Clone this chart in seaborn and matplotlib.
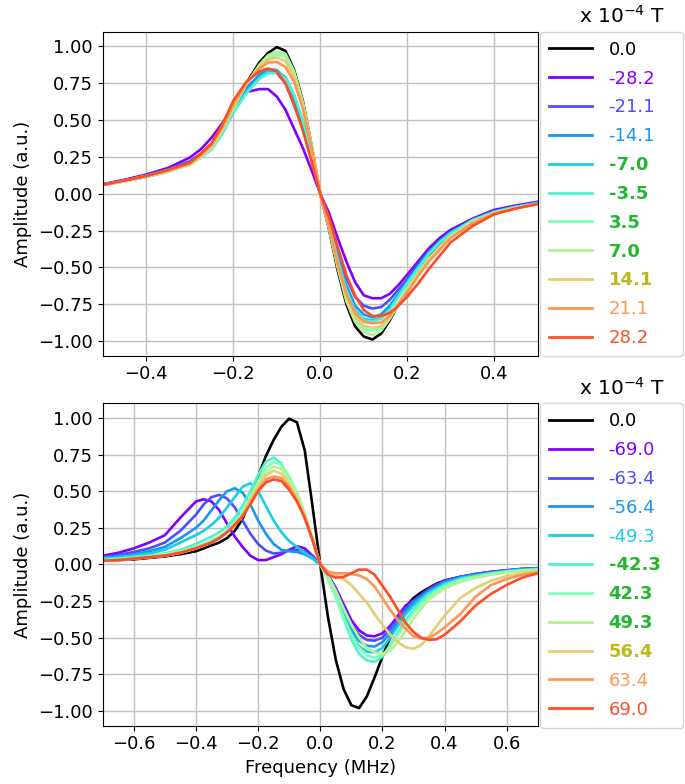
import numpy as np
import pandas as pd
import matplotlib
matplotlib.use("Agg")
import matplotlib.pyplot as plt
import seaborn as sns

# ---------------- top panel (fields x 1e-4 T) ----------------
top_fields = ["0.0", "-28.2", "-21.1", "-14.1", "-7.0", "-3.5", "3.5", "7.0", "14.1", "21.1", "28.2"]
top_x = [-0.5, -0.45, -0.4, -0.35, -0.3, -0.275, -0.25, -0.225, -0.2, -0.17, -0.14, -0.12, -0.1, -0.08,
         -0.06, -0.04, -0.02, 0.0, 0.02, 0.04, 0.06, 0.08, 0.1, 0.12, 0.14, 0.16, 0.18, 0.2, 0.225, 0.25,
         0.275, 0.3, 0.35, 0.4, 0.45, 0.5]
top_y = {
    "0.0":   [.06, .085, .115, .15, .2, .25, .32, .43, .58, .75, .89, .955, .995, .97, .84, .63, .33, 0,
              -.24, -.52, -.75, -.9, -.97, -.99, -.95, -.86, -.75, -.65, -.54, -.43, -.35, -.28, -.19, -.13, -.095, -.07],
    "-28.2": [.065, .095, .13, .175, .245, .30, .38, .48, .59, .69, .71, .71, .66, .57, .44, .31, .16, 0,
              -.13, -.3, -.46, -.6, -.69, -.71, -.71, -.68, -.62, -.55, -.46, -.37, -.3, -.245, -.17, -.11, -.08, -.055],
    "-21.1": [.06, .09, .125, .165, .22, .27, .34, .45, .59, .72, .80, .83, .82, .75, .61, .44, .23, 0,
              -.19, -.39, -.57, -.7, -.76, -.78, -.77, -.72, -.65, -.58, -.48, -.39, -.32, -.26, -.18, -.12, -.085, -.06],
    "-14.1": [.06, .088, .12, .16, .21, .26, .32, .43, .57, .71, .81, .845, .84, .78, .65, .47, .25, 0,
              -.2, -.42, -.62, -.76, -.82, -.84, -.82, -.76, -.68, -.6, -.5, -.4, -.32, -.26, -.18, -.12, -.09, -.065],
    "-7.0":  [.06, .085, .115, .15, .2, .245, .3, .41, .55, .69, .79, .83, .835, .79, .67, .49, .26, 0,
              -.2, -.44, -.65, -.79, -.85, -.86, -.84, -.78, -.69, -.6, -.5, -.4, -.33, -.27, -.18, -.125, -.09, -.065],
    "-3.5":  [.06, .085, .115, .15, .2, .245, .3, .41, .55, .68, .78, .815, .82, .78, .67, .5, .27, 0,
              -.21, -.45, -.66, -.8, -.86, -.87, -.85, -.79, -.7, -.61, -.51, -.41, -.33, -.27, -.18, -.125, -.09, -.065],
    "3.5":   [.06, .085, .115, .15, .195, .245, .31, .43, .58, .74, .86, .92, .945, .93, .81, .61, .32, 0,
              -.23, -.49, -.71, -.85, -.92, -.93, -.91, -.84, -.74, -.65, -.54, -.44, -.36, -.29, -.19, -.13, -.095, -.07],
    "7.0":   [.06, .085, .115, .15, .195, .245, .31, .43, .58, .745, .875, .94, .965, .95, .83, .62, .33, 0,
              -.23, -.5, -.73, -.87, -.94, -.96, -.93, -.85, -.75, -.65, -.54, -.44, -.36, -.29, -.19, -.13, -.095, -.07],
    "14.1":  [.06, .085, .12, .155, .2, .255, .32, .44, .59, .745, .86, .91, .925, .9, .79, .6, .32, 0,
              -.22, -.48, -.7, -.83, -.9, -.91, -.9, -.84, -.75, -.66, -.55, -.45, -.37, -.3, -.2, -.135, -.1, -.07],
    "21.1":  [.06, .09, .12, .16, .205, .26, .33, .45, .6, .75, .85, .89, .895, .86, .76, .58, .31, 0,
              -.22, -.47, -.68, -.81, -.87, -.88, -.875, -.83, -.75, -.67, -.56, -.46, -.38, -.3, -.2, -.135, -.1, -.07],
    "28.2":  [.06, .09, .12, .16, .21, .27, .34, .47, .63, .76, .83, .85, .83, .75, .6, .43, .22, 0,
              -.16, -.36, -.55, -.69, -.79, -.83, -.83, -.81, -.76, -.7, -.61, -.51, -.42, -.33, -.22, -.14, -.1, -.07],
}

# ---------------- bottom panel ----------------
bot_fields = ["0.0", "-69.0", "-63.4", "-56.4", "-49.3", "-42.3", "42.3", "49.3", "56.4", "63.4", "69.0"]
bot_x = [-0.7, -0.65, -0.6, -0.55, -0.5, -0.45, -0.4, -0.375, -0.35, -0.325, -0.3, -0.275, -0.25, -0.225,
         -0.2, -0.175, -0.15, -0.125, -0.1, -0.075, -0.05, -0.025, 0.0, 0.025, 0.05, 0.075, 0.1, 0.125,
         0.15, 0.175, 0.2, 0.225, 0.25, 0.275, 0.3, 0.325, 0.35, 0.375, 0.4, 0.45, 0.5, 0.55, 0.6, 0.65, 0.7]
bot_y = {
    "0.0":   [.025, .03, .035, .045, .055, .07, .09, .11, .13, .15, .18, .23, .31, .44, .6, .74, .85, .94, .995,
              .97, .78, .4, 0, -.36, -.65, -.85, -.96, -.98, -.9, -.77, -.63, -.5, -.38, -.29, -.23, -.19, -.16,
              -.13, -.11, -.085, -.07, -.055, -.045, -.035, -.03],
    "-69.0": [.06, .08, .11, .15, .2, .32, .43, .445, .43, .37, .28, .19, .12, .06, .03, .03, .05, .07, .1,
              .125, .11, .06, 0, -.07, -.16, -.27, -.38, -.45, -.485, -.49, -.47, -.42, -.35, -.28, -.245,
              -.205, -.165, -.135, -.11, -.085, -.065, -.05, -.04, -.03, -.025],
    "-63.4": [.05, .065, .085, .11, .15, .23, .34, .41, .46, .475, .45, .39, .3, .21, .14, .095, .075, .08,
              .095, .1, .09, .05, 0, -.07, -.17, -.29, -.41, -.48, -.515, -.52, -.5, -.44, -.37, -.3, -.25,
              -.21, -.17, -.14, -.115, -.085, -.065, -.05, -.04, -.03, -.025],
    "-56.4": [.045, .055, .07, .09, .12, .18, .25, .3, .37, .44, .5, .52, .49, .41, .3, .21, .14, .1, .09,
              .085, .07, .04, 0, -.07, -.18, -.31, -.44, -.52, -.555, -.56, -.53, -.47, -.39, -.32, -.26,
              -.22, -.18, -.15, -.12, -.09, -.07, -.055, -.045, -.035, -.03],
    "-49.3": [.04, .05, .06, .075, .1, .15, .2, .23, .27, .32, .39, .46, .53, .555, .5, .4, .3, .22, .16,
              .12, .08, .045, 0, -.08, -.19, -.33, -.47, -.56, -.595, -.6, -.57, -.5, -.42, -.34, -.28,
              -.23, -.19, -.16, -.13, -.095, -.075, -.06, -.045, -.035, -.03],
    "-42.3": [.03, .04, .05, .06, .075, .1, .14, .165, .19, .22, .26, .32, .4, .5, .61, .7, .73, .69, .55,
              .45, .31, .16, 0, -.1, -.22, -.37, -.51, -.61, -.655, -.665, -.63, -.55, -.46, -.38, -.31,
              -.25, -.2, -.17, -.14, -.1, -.08, -.06, -.05, -.04, -.035],
    "42.3":  [.03, .035, .045, .055, .07, .09, .12, .14, .165, .19, .23, .29, .36, .46, .57, .66, .7, .68,
              .6, .49, .35, .18, 0, -.1, -.22, -.36, -.48, -.57, -.62, -.635, -.62, -.56, -.48, -.4, -.33,
              -.27, -.22, -.18, -.15, -.11, -.085, -.065, -.05, -.04, -.035],
    "49.3":  [.025, .03, .04, .05, .06, .08, .11, .13, .15, .18, .22, .27, .34, .45, .55, .63, .67, .65,
              .58, .47, .34, .18, 0, -.08, -.18, -.3, -.41, -.5, -.57, -.6, -.61, -.59, -.53, -.45, -.37,
              -.3, -.24, -.2, -.165, -.12, -.09, -.07, -.055, -.045, -.04],
    "56.4":  [.025, .03, .04, .05, .06, .08, .11, .13, .15, .18, .22, .27, .33, .44, .53, .61, .64, .62,
              .55, .45, .33, .17, 0, -.05, -.07, -.1, -.14, -.2, -.26, -.34, -.41, -.48, -.53, -.565, -.575,
              -.55, -.49, -.42, -.35, -.23, -.16, -.11, -.08, -.06, -.05],
    "63.4":  [.025, .03, .04, .05, .06, .08, .11, .13, .15, .18, .22, .27, .33, .42, .51, .58, .6, .59,
              .53, .44, .32, .17, 0, -.05, -.06, -.06, -.065, -.075, -.1, -.15, -.23, -.31, -.38, -.44, -.49,
              -.505, -.5, -.47, -.43, -.34, -.22, -.14, -.1, -.07, -.055],
    "69.0":  [.025, .03, .04, .05, .06, .08, .11, .13, .15, .18, .22, .27, .33, .41, .5, .56, .58, .57,
              .51, .43, .32, .17, 0, -.07, -.09, -.085, -.06, -.035, -.035, -.07, -.145, -.22, -.31, -.4, -.46,
              -.5, -.515, -.51, -.48, -.39, -.28, -.2, -.14, -.09, -.06],
}

# rainbow positions of the coloured curves, black for zero field
cmap_pos = [0.0, 0.1, 0.2, 0.3, 0.4, 0.5, 0.6, 0.7, 0.8, 0.9]
top_text_colors = ["black", None, None, None, "#1fb82f", "#1fb82f", "#1fb82f", "#1fb82f", "#bdb81c", None, None]
bot_text_colors = ["black", None, None, None, None, "#1fb82f", "#1fb82f", "#1fb82f", "#bdb81c", None, None]
top_bold = [False, False, False, False, True, True, True, True, True, False, False]
bot_bold = [False, False, False, False, False, True, True, True, True, False, False]

line_colors = ["black"] + [plt.cm.rainbow(p) for p in cmap_pos]

plt.rcParams["font.size"] = 13
fig = plt.figure(figsize=(6.85, 7.84), dpi=100)
ax1 = fig.add_axes([0.150, 0.5463, 0.635, 0.4133])
ax2 = fig.add_axes([0.150, 0.0744, 0.635, 0.4112])


def draw(ax, xs, fields, ydict, text_colors, bold):
    for f, c in zip(fields, line_colors):
        df = pd.DataFrame({"x": xs, "y": ydict[f]})
        sns.lineplot(data=df, x="x", y="y", color=c, lw=1.9, ax=ax, label=f, sort=False, estimator=None)
    ax.grid(True, color="#c0c0c0", lw=1)
    ax.set_ylim(-1.1, 1.1)
    ax.set_yticks([-1.0, -0.75, -0.5, -0.25, 0.0, 0.25, 0.5, 0.75, 1.0])
    ax.set_ylabel("Amplitude (a.u.)")
    ax.set_xlabel("")
    leg = ax.legend(loc="upper left", bbox_to_anchor=(1.005, 0.0, 0.33, 1.0), mode="expand",
                    borderaxespad=0, fontsize=13, labelspacing=0.6, handlelength=2.4,
                    handletextpad=0.9, borderpad=0.5, frameon=True)
    for txt, col, lc, b in zip(leg.get_texts(), text_colors, line_colors, bold):
        txt.set_color(col if col is not None else lc)
        if b:
            txt.set_fontweight("bold")
    for h in leg.get_lines():
        h.set_linewidth(2)
    ax.text(1.194, 1.015, "x 10$^{-4}$ T", transform=ax.transAxes, ha="center", va="bottom", fontsize=14.5)


draw(ax1, top_x, top_fields, top_y, top_text_colors, top_bold)
ax1.set_xlim(-0.5, 0.5)
ax1.set_xticks([-0.4, -0.2, 0.0, 0.2, 0.4])

draw(ax2, bot_x, bot_fields, bot_y, bot_text_colors, bot_bold)
ax2.set_xlim(-0.7, 0.7)
ax2.set_xticks([-0.6, -0.4, -0.2, 0.0, 0.2, 0.4, 0.6])
ax2.set_xlabel("Frequency (MHz)")

fig.savefig("out.png", dpi=100)
